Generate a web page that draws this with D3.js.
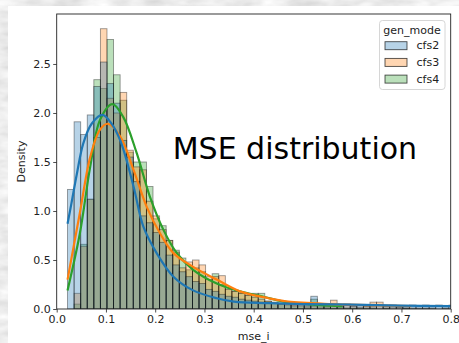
<!DOCTYPE html>
<html>
<head>
<meta charset="utf-8">
<script src="https://cdn.jsdelivr.net/npm/d3@7"></script>
<style>
  body { margin: 0; padding: 0; overflow: hidden; }
  svg { display: block; }
  text { font-family: "DejaVu Sans", sans-serif; }
</style>
</head>
<body>
<div id="chart"></div>
<script>
// hue levels and colours (tab10)
var modes = ["cfs2", "cfs3", "cfs4"];
var colors = ["#1f77b4", "#ff7f0e", "#2ca02c"];

// common histogram bins
var binStart = 0.022;
var binWidth = 0.01335;

// bar heights (density) per bin
var cfs2 = [1.22, 1.91, 1.78, 1.98, 2.27, 2.52, 2.30, 2.10, 1.72, 1.55,
            1.30, 0.95, 0.88, 0.78, 0.68, 0.55, 0.45, 0.38, 0.33, 0.28,
            0.26, 0.20, 0.18, 0.15, 0.13, 0.12, 0.10, 0.09, 0.08, 0.07,
            0.06, 0.06, 0.05, 0.05, 0.04, 0.05, 0.04, 0.13, 0.04, 0.05,
            0.04, 0.03, 0.04, 0.03, 0.04, 0.03, 0.03, 0.04, 0.03, 0.04,
            0.02, 0.03, 0.04, 0.03, 0.04, 0.03, 0.04, 0.03, 0.04];
var cfs3 = [0.00, 0.16, 0.64, 1.12, 1.75, 2.86, 2.15, 2.00, 2.21, 1.62,
            1.45, 1.42, 1.10, 0.95, 0.81, 0.70, 0.58, 0.42, 0.48, 0.50,
            0.45, 0.33, 0.33, 0.34, 0.20, 0.18, 0.16, 0.14, 0.12, 0.10,
            0.08, 0.07, 0.06, 0.06, 0.05, 0.04, 0.03, 0.03, 0.04, 0.03,
            0.09, 0.03, 0.05, 0.03, 0.02, 0.03, 0.07, 0.07, 0.03, 0.02,
            0.02, 0.01, 0.01, 0.01, 0.01, 0.01, 0.00, 0.01, 0.00];
var cfs4 = [0.00, 0.05, 0.66, 1.12, 2.34, 2.25, 2.75, 2.39, 2.13, 1.60,
            1.50, 1.50, 1.25, 0.92, 0.85, 0.70, 0.60, 0.52, 0.40, 0.42,
            0.38, 0.30, 0.36, 0.25, 0.22, 0.18, 0.16, 0.14, 0.16, 0.16,
            0.08, 0.06, 0.05, 0.04, 0.03, 0.03, 0.02, 0.10, 0.02, 0.02,
            0.01, 0.02, 0.01, 0.01, 0.01, 0.01, 0.01, 0.00, 0.01, 0.00,
            0.00, 0.01, 0.00, 0.00, 0.00, 0.00, 0.00, 0.00, 0.00];

// kde curves: [mse_i, density]
var kde2 = [[0.022,0.87],[0.030,1.08],[0.041,1.38],[0.054,1.69],[0.071,1.89],[0.093,1.98],
            [0.110,1.90],[0.129,1.72],[0.156,1.25],[0.176,0.84],[0.203,0.57],[0.237,0.33],
            [0.277,0.19],[0.325,0.11],[0.360,0.075],[0.430,0.06],[0.500,0.05],[0.600,0.045],
            [0.700,0.035],[0.800,0.03]];
var kde3 = [[0.022,0.30],[0.047,0.98],[0.068,1.55],[0.088,1.83],[0.104,1.89],[0.129,1.76],
            [0.156,1.42],[0.183,1.04],[0.210,0.77],[0.237,0.57],[0.277,0.43],[0.325,0.30],
            [0.372,0.18],[0.430,0.11],[0.470,0.075],[0.560,0.05],[0.630,0.04],[0.720,0.03]];
var kde4 = [[0.022,0.19],[0.047,0.77],[0.068,1.45],[0.088,1.93],[0.113,2.09],[0.135,1.96],
            [0.1625,1.59],[0.189,1.15],[0.2165,0.81],[0.244,0.57],[0.277,0.40],[0.325,0.26],
            [0.372,0.18],[0.420,0.125],[0.460,0.075],[0.530,0.04],[0.580,0.03]];

var xTicks = [0, 0.1, 0.2, 0.3, 0.4, 0.5, 0.6, 0.7, 0.8];
var yTicks = [0, 0.5, 1.0, 1.5, 2.0, 2.5];

var W = 459, H = 343;
var margin = {top: 14, right: 8.3, bottom: 34, left: 56.7},
    width = W - margin.left - margin.right,
    height = H - margin.top - margin.bottom;

var svg = d3.select("#chart").append("svg")
    .attr("width", W)
    .attr("height", H);

// mottled grey backdrop around the figure
var defs = svg.append("defs");
var f = defs.append("filter").attr("id", "marble")
    .attr("x", 0).attr("y", 0).attr("width", "100%").attr("height", "100%");
f.append("feTurbulence")
    .attr("type", "fractalNoise")
    .attr("baseFrequency", "0.035 0.09")
    .attr("numOctaves", 3)
    .attr("seed", 4);
f.append("feColorMatrix")
    .attr("type", "matrix")
    .attr("values", "0.45 0 0 0 0.62  0.45 0 0 0 0.62  0.45 0 0 0 0.62  0 0 0 0 1");
svg.append("rect").attr("width", W).attr("height", H).attr("filter", "url(#marble)");

svg.append("rect")
    .attr("x", 8).attr("y", 6)
    .attr("width", W - 8).attr("height", H - 6)
    .attr("fill", "white");

defs.append("clipPath").attr("id", "plotclip")
  .append("rect").attr("width", width).attr("height", height);

var g = svg.append("g")
    .attr("transform", "translate(" + margin.left + "," + margin.top + ")");

var x = d3.scaleLinear().domain([0, 0.8]).range([0, width]);
var y = d3.scaleLinear().domain([0, 3.01]).range([height, 0]);

var plot = g.append("g").attr("clip-path", "url(#plotclip)");

// histograms, layered like seaborn: last level at the bottom, cfs2 on top
[[cfs4, 2], [cfs3, 1], [cfs2, 0]].forEach(function(p) {
  plot.append("g")
    .selectAll("rect")
    .data(p[0])
    .enter().append("rect")
      .attr("x", function(d, i) { return x(binStart + i * binWidth); })
      .attr("width", function(d, i) { return x(binStart + (i + 1) * binWidth) - x(binStart + i * binWidth); })
      .attr("y", function(d) { return y(d); })
      .attr("height", function(d) { return height - y(d); })
      .attr("fill", colors[p[1]])
      .attr("fill-opacity", 0.32)
      .attr("stroke", "#000")
      .attr("stroke-opacity", 0.4)
      .attr("stroke-width", 0.9);
});

// kde lines
var line = d3.line()
    .x(function(d) { return x(d[0]); })
    .y(function(d) { return y(d[1]); })
    .curve(d3.curveCatmullRom.alpha(0.5));

[[kde4, 2], [kde3, 1], [kde2, 0]].forEach(function(p) {
  plot.append("path")
    .datum(p[0])
    .attr("fill", "none")
    .attr("stroke", colors[p[1]])
    .attr("stroke-width", 2.2)
    .attr("d", line);
});

// axes
var xAxis = g.append("g")
    .attr("transform", "translate(0," + height + ")")
    .call(d3.axisBottom(x).tickValues(xTicks).tickFormat(d3.format(".1f")).tickSize(3.5).tickPadding(2.5));
var yAxis = g.append("g")
    .call(d3.axisLeft(y).tickValues(yTicks).tickFormat(d3.format(".1f")).tickSize(3.5).tickPadding(2.5));
[xAxis, yAxis].forEach(function(a) {
  a.select(".domain").remove();
  a.selectAll("text").attr("font-size", 11).attr("fill", "#222")
    .attr("font-family", "DejaVu Sans");
  a.selectAll("line").attr("stroke", "#222").attr("stroke-width", 0.8);
});

// frame
g.append("rect")
    .attr("width", width).attr("height", height)
    .attr("fill", "none").attr("stroke", "#222").attr("stroke-width", 0.9);

g.append("text")
    .attr("x", width / 2).attr("y", height + 31)
    .attr("text-anchor", "middle")
    .attr("font-size", 11).attr("fill", "#222")
    .text("mse_i");

g.append("text")
    .attr("transform", "translate(" + (21 - margin.left) + "," + (height / 2) + ") rotate(-90)")
    .attr("text-anchor", "middle")
    .attr("dominant-baseline", "central")
    .attr("font-size", 11).attr("fill", "#222")
    .text("Density");

// big annotation
g.append("text")
    .attr("x", 172.7 - margin.left).attr("y", 158.5 - margin.top)
    .attr("font-family", "Noto Sans")
    .attr("font-size", 30)
    .attr("fill", "#000")
    .text("MSE distribution");

// legend
var leg = svg.append("g");
leg.append("rect")
    .attr("x", 379.5).attr("y", 20.5).attr("width", 65.5).attr("height", 69)
    .attr("rx", 3)
    .attr("fill", "white").attr("fill-opacity", 0.8)
    .attr("stroke", "#cccccc").attr("stroke-width", 0.8);
leg.append("text")
    .attr("x", 412).attr("y", 33.5)
    .attr("text-anchor", "middle")
    .attr("font-size", 11).attr("fill", "#222")
    .text("gen_mode");
modes.forEach(function(m, j) {
  var cy = 45.7 + j * 16.7;
  leg.append("rect")
    .attr("x", 385).attr("y", cy - 4).attr("width", 22).attr("height", 8)
    .attr("fill", colors[j]).attr("fill-opacity", 0.32)
    .attr("stroke", "#000").attr("stroke-opacity", 0.7).attr("stroke-width", 0.9);
  leg.append("text")
    .attr("x", 416.5).attr("y", cy)
    .attr("dominant-baseline", "central")
    .attr("font-size", 11).attr("fill", "#222")
    .text(m);
});
</script>
</body>
</html>
